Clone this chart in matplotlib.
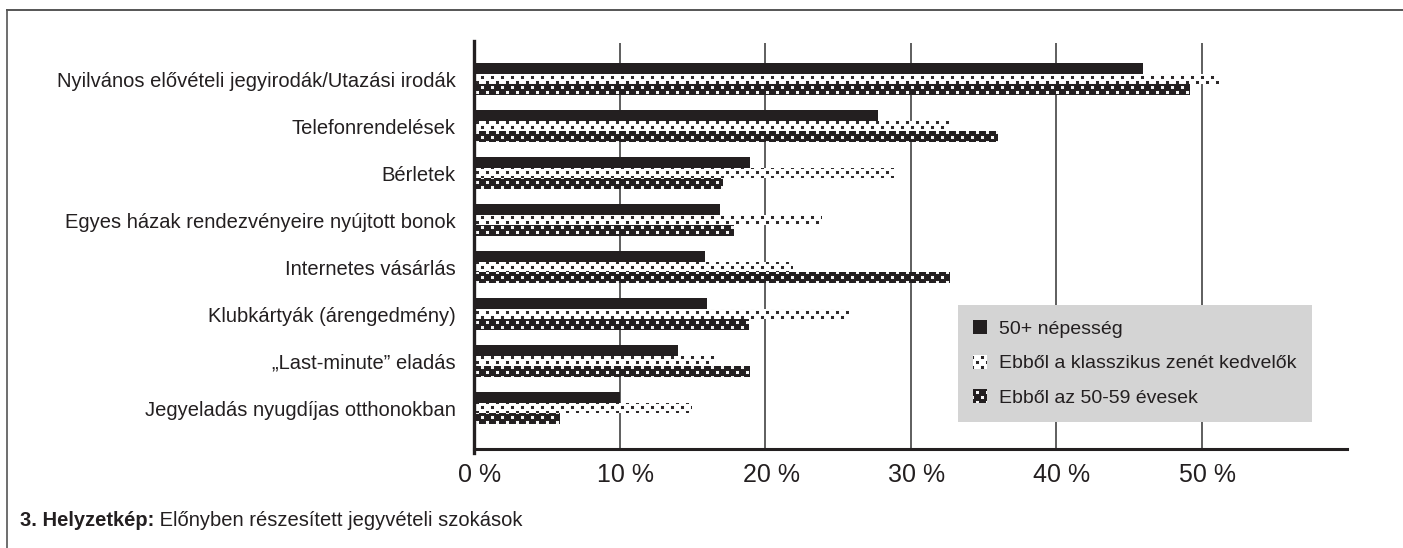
import matplotlib

matplotlib.use("Agg")
import matplotlib.pyplot as plt
import matplotlib.hatch as mhatch
import matplotlib.transforms as mtransforms
from matplotlib.lines import Line2D
from matplotlib.path import Path
import numpy as np


categories = [
    "Nyilvános elővételi jegyirodák/Utazási irodák",
    "Telefonrendelések",
    "Bérletek",
    "Egyes házak rendezvényeire nyújtott bonok",
    "Internetes vásárlás",
    "Klubkártyák (árengedmény)",
    "\u201eLast-minute\u201d eladás",
    "Jegyeladás nyugdíjas otthonokban",
]
series_names = [
    "50+ népesség",
    "Ebből a klasszikus zenét kedvelők",
    "Ebből az 50-59 évesek",
]
pop_50plus = [46.0, 27.8, 19.0, 16.9, 15.9, 16.0, 14.0, 10.0]
classical_fans = [51.2, 32.7, 28.9, 23.9, 21.9, 25.8, 16.6, 15.0]
age_50_59 = [49.2, 36.0, 17.1, 17.9, 32.7, 18.9, 19.0, 5.9]
x_ticks = [0, 10, 20, 30, 40, 50]
x_tick_labels = ["0 %", "10 %", "20 %", "30 %", "40 %", "50 %"]
caption_bold = "3. Helyzetkép:"
caption_rest = " Előnyben részesített jegyvételi szokások"

INK = "#231f20"


class SquareDots(mhatch.HatchPatternBase):
    # staggered small squares, like the print raster of the original
    cols = 10
    rows = 20
    side = 0.022

    def __init__(self, hatch, density):
        self.num_vertices = self.cols * self.rows * 5 if "." in hatch else 0

    def set_vertices_and_codes(self, vertices, codes):
        s = self.side / 2
        k = 0
        for i in range(self.rows):
            shift = 0.25 if i % 2 == 0 else 0.75
            yc = (i + 0.5) / self.rows
            for j in range(self.cols):
                xc = (j + shift) / self.cols
                vertices[k:k + 5] = [(xc - s, yc - s), (xc + s, yc - s),
                                     (xc + s, yc + s), (xc - s, yc + s),
                                     (xc - s, yc - s)]
                codes[k:k + 5] = [Path.MOVETO, Path.LINETO, Path.LINETO,
                                  Path.LINETO, Path.CLOSEPOLY]
                k += 5


mhatch._hatch_types = [t for t in mhatch._hatch_types
                       if t is not mhatch.SmallFilledCircles] + [SquareDots]

plt.rcParams["font.family"] = ["Liberation Sans", "DejaVu Sans"]
plt.rcParams["hatch.linewidth"] = 0.6

fig = plt.figure(figsize=(14.03, 5.48), dpi=100)
ax = fig.add_axes([474 / 1403, 1 - 449 / 548, 873 / 1403, 406 / 548])

y = np.arange(len(categories))
h = 0.225
ax.barh(y - h, pop_50plus, height=h, color=INK, linewidth=0, label=series_names[0])
ax.barh(y, classical_fans, height=h, facecolor="white", edgecolor=INK,
        hatch=".", linewidth=0, label=series_names[1])
ax.barh(y + h, age_50_59, height=h, facecolor=INK, edgecolor="white",
        hatch=".", linewidth=0, label=series_names[2])

ax.set_xlim(0, 60)
ax.set_ylim(7.87, -0.77)
ax.set_yticks(y)
ax.set_yticklabels(categories, fontsize=14.5, color=INK)
ax.set_xticks(x_ticks)
ax.set_xticklabels(x_tick_labels, fontsize=18, color=INK)
ax.tick_params(axis="both", length=0)
ax.tick_params(axis="y", pad=13)
ax.tick_params(axis="x", pad=10)
shift = mtransforms.ScaledTranslation(6 / 100, 0, fig.dpi_scale_trans)
for lab in ax.get_xticklabels():
    lab.set_transform(lab.get_transform() + shift)

ax.set_axisbelow(True)
ax.xaxis.grid(True, color="#333333", linewidth=1.1)
for side in ("top", "right"):
    ax.spines[side].set_visible(False)
ax.spines["left"].set_linewidth(2.4)
ax.spines["left"].set_color(INK)
ax.spines["left"].set_bounds(7.95, -0.81)
ax.spines["bottom"].set_linewidth(2.2)
ax.spines["bottom"].set_color(INK)

leg = ax.legend(
    loc="lower left",
    bbox_to_anchor=(0.554, 0.066),
    fontsize=14,
    frameon=True,
    fancybox=False,
    framealpha=1,
    facecolor="#d4d4d4",
    edgecolor="none",
    handlelength=0.72,
    handleheight=0.72,
    handletextpad=0.6,
    labelspacing=0.85,
    borderpad=0.8,
    borderaxespad=0,
)
for t in leg.get_texts():
    t.set_color(INK)

# outer frame (top and left only)
fig.add_artist(Line2D([7 / 1403, 1], [1 - 10 / 548, 1 - 10 / 548],
                      transform=fig.transFigure, color="#555555", linewidth=1.4))
fig.add_artist(Line2D([7 / 1403, 7 / 1403], [0, 1 - 10 / 548],
                      transform=fig.transFigure, color="#555555", linewidth=1.2))

cap = fig.text(20 / 1403, 1 - 520 / 548, caption_bold, fontsize=14.5,
               fontweight="bold", color=INK, va="center", ha="left")
ax.annotate(caption_rest, xy=(1, 0.5), xycoords=cap, va="center", ha="left",
            fontsize=14.5, color=INK, annotation_clip=False)

fig.savefig("out.png", dpi=100)
plt.close(fig)
